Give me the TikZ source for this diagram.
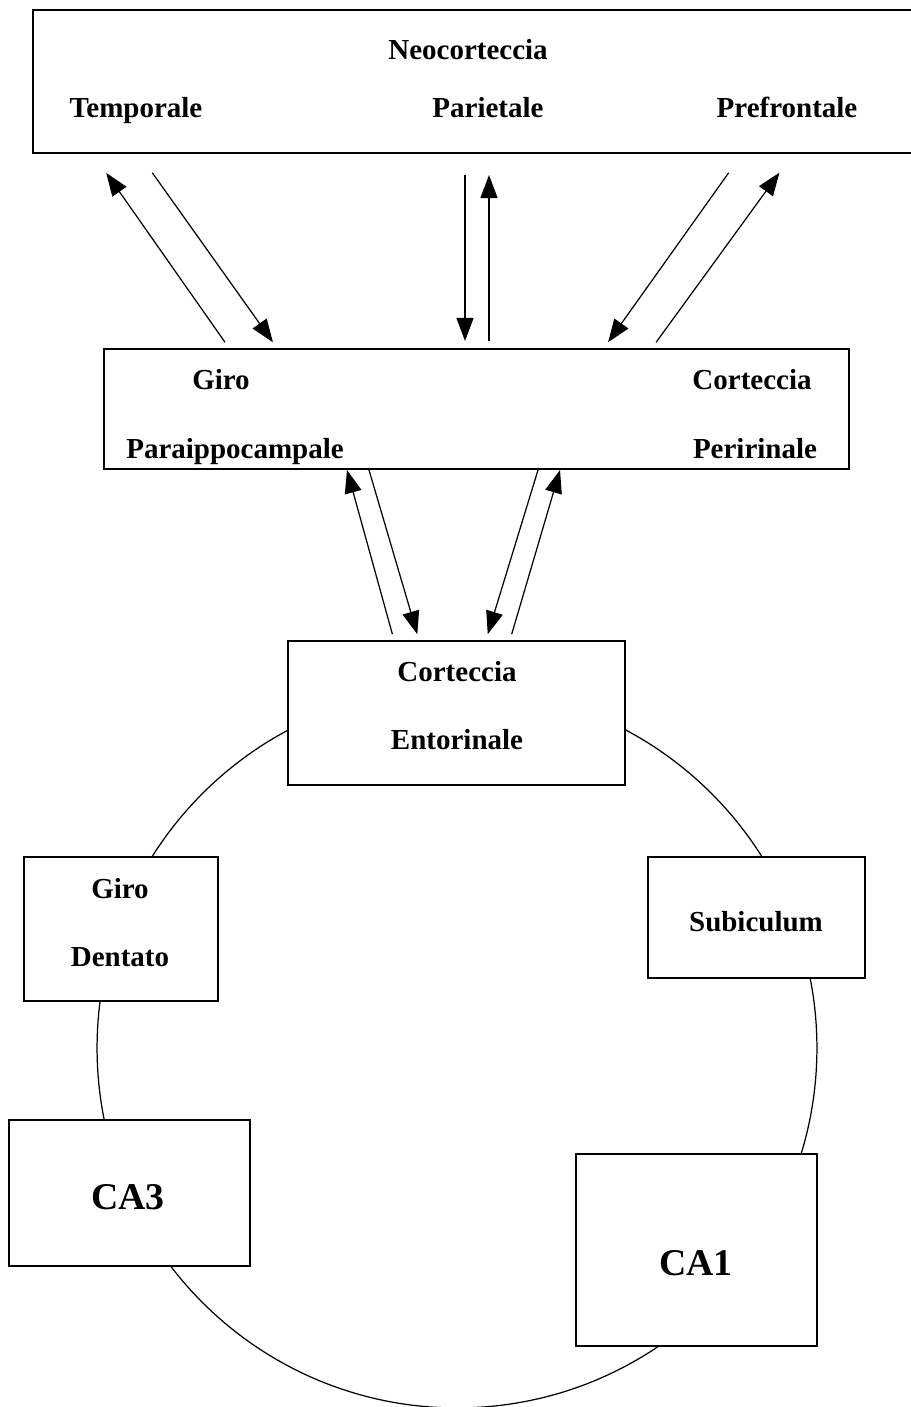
\documentclass[tikz,border=0pt]{standalone}
\usepackage{fontspec}
\setmainfont{Liberation Serif}
\usetikzlibrary{arrows.meta}

\begin{document}
\begin{tikzpicture}[x=0.02cm, y=-0.02cm,
    box/.style={draw=black, line width=1.2pt, fill=white, inner sep=0pt},
    lbl/.style={font=\bfseries\fontsize{16.5}{20}\selectfont, inner sep=0pt,
      text height=0.66em, text depth=0pt, yshift=-0.11cm},
    big/.style={lbl, font=\bfseries\fontsize{21.5}{26}\selectfont},
    link/.style={-{Triangle[length=0.46cm, width=0.34cm]}, line width=0.7pt},
    ring/.style={line width=0.7pt}]
\useasboundingbox (0,0) rectangle (910,1407);
% hippocampal loop
\coordinate (hub) at (457,1048);
\draw[ring] (hub) circle (7.2cm);
% boxes
\node[box, minimum width=17.64cm, minimum height=2.86cm] (neo) at (474,81.5) {};
\node[box, minimum width=14.9cm, minimum height=2.4cm] (para) at (476.5,409) {};
\node[box, minimum width=6.74cm, minimum height=2.88cm] (ento) at (456.5,713) {};
\node[box, minimum width=3.88cm, minimum height=2.88cm] (dent) at (121,929) {};
\node[box, minimum width=4.34cm, minimum height=2.42cm] (subi) at (756.5,917.5) {};
\node[box, minimum width=4.82cm, minimum height=2.92cm] (ca3) at (129.5,1193) {};
\node[box, minimum width=4.82cm, minimum height=3.84cm] (ca1) at (696.5,1250) {};
% texts
\node[lbl] (neoT) at (468,48) {Neocorteccia};
\node[lbl] (temp) at (136,106) {Temporale};
\node[lbl] (pari) at (488,106) {Parietale};
\node[lbl] (pref) at (787,106) {Prefrontale};
\node[lbl] (giroA) at (221,378) {Giro};
\node[lbl] (giroB) at (235,447) {Paraippocampale};
\node[lbl] (periA) at (752,378) {Corteccia};
\node[lbl] (periB) at (755,447) {Peririnale};
\node[lbl] (entoA) at (457,670) {Corteccia};
\node[lbl] (entoB) at (457,738) {Entorinale};
\node[lbl] (dentA) at (120,887) {Giro};
\node[lbl] (dentB) at (120,955) {Dentato};
\node[lbl] (subiT) at (756,920) {Subiculum};
\node[big] (ca3T) at (128,1198) {CA3};
\node[big] (ca1T) at (696,1264) {CA1};
% neocortex <-> parahippocampal
\draw[link, shorten <=0.14cm, shorten >=0.46cm] (229,0 |- para.north) -- (93,0 |- neo.south);
\draw[link, shorten <=0.46cm, shorten >=0.14cm] (139,0 |- neo.south) -- (277,0 |- para.north);
\draw[link, shorten <=0.42cm, shorten >=0.14cm] (465,0 |- neo.south) -- (465,0 |- para.north);
\draw[link, shorten <=0.14cm, shorten >=0.42cm] (489,0 |- para.north) -- (489,0 |- neo.south);
\draw[link, shorten <=0.46cm, shorten >=0.14cm] (742,0 |- neo.south) -- (604,0 |- para.north);
\draw[link, shorten <=0.14cm, shorten >=0.46cm] (652,0 |- para.north) -- (793,0 |- neo.south);
% parahippocampal <-> entorhinal
\draw[link, shorten <=0.12cm] (394,0 |- ento.north) -- (347,0 |- para.south);
\draw[link, shorten >=0.12cm] (369,0 |- para.south) -- (419,0 |- ento.north);
\draw[link, shorten >=0.12cm] (538,0 |- para.south) -- (486,0 |- ento.north);
\draw[link, shorten <=0.12cm] (510,0 |- ento.north) -- (560,0 |- para.south);
\end{tikzpicture}
\end{document}
